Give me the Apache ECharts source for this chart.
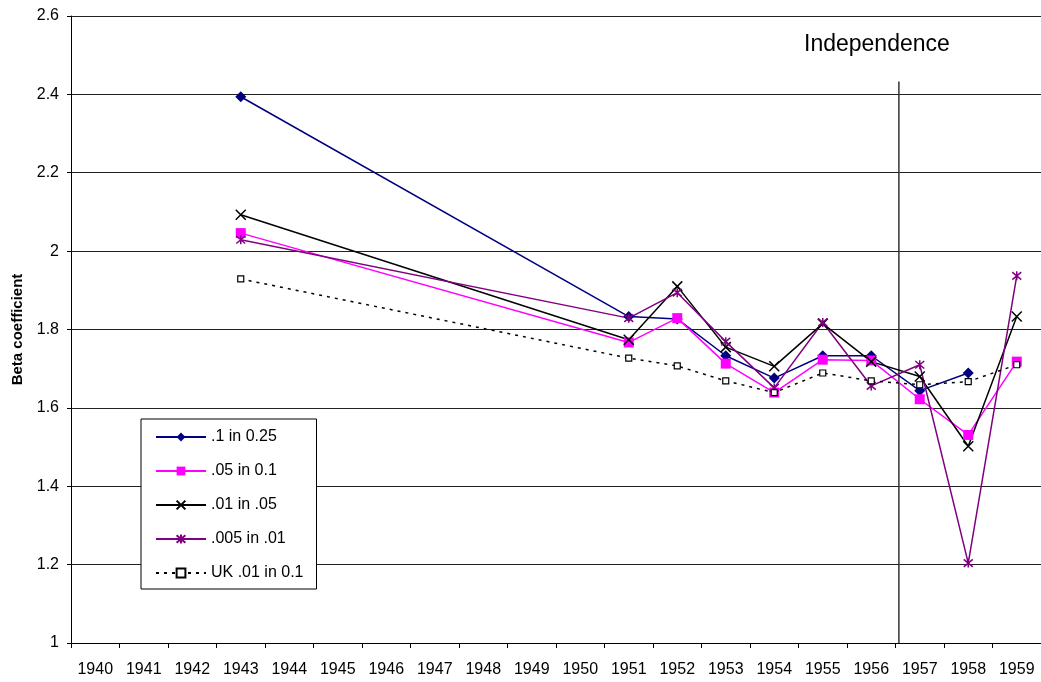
<!DOCTYPE html>
<html>
<head>
<meta charset="utf-8">
<script src="https://cdn.jsdelivr.net/npm/echarts@6/dist/echarts.min.js"></script>
<style>
  html, body { margin: 0; padding: 0; background: #fff; }
  #chart { width: 1041px; height: 682px; }
</style>
</head>
<body>
<div id="chart"></div>
<script>
// years on the category axis
const years = ['1940', '1941', '1942', '1943', '1944', '1945', '1946', '1947', '1948', '1949',
               '1950', '1951', '1952', '1953', '1954', '1955', '1956', '1957', '1958', '1959'];

// beta coefficients (null = no estimate that year)
const s1 = [null, null, null, 2.394, null, null, null, null, null, null,
            null, 1.833, 1.827, 1.733, 1.676, 1.733, 1.733, 1.644, 1.689, null];
const s2 = [null, null, null, 2.046, null, null, null, null, null, null,
            null, 1.767, 1.829, 1.713, 1.639, 1.723, 1.721, 1.622, 1.531, 1.718];
const s3 = [null, null, null, 2.093, null, null, null, null, null, null,
            null, 1.774, 1.910, 1.755, 1.706, 1.815, 1.718, 1.680, 1.502, 1.833];
const s4 = [null, null, null, 2.029, null, null, null, null, null, null,
            null, 1.829, 1.894, 1.769, 1.651, 1.818, 1.656, 1.710, 1.204, 1.937];
const ukSeries = [null, null, null, 1.929, null, null, null, null, null, null,
            null, 1.727, 1.707, 1.669, 1.639, 1.689, 1.669, 1.659, 1.667, 1.710];

const seriesNames = ['.1 in 0.25', '.05 in 0.1', '.01 in .05', '.005 in .01', 'UK .01 in 0.1'];

// independence marker: position on the 0..20 band scale, and its vertical extent
const independenceX = 17.07;
const independenceY = [1, 2.433];

const FONT = 'Arial, "Liberation Sans", sans-serif';
const crossPath = 'path://M0,0L10,10M10,0L0,10';
const starPath = 'path://M0,0L10,10M10,0L0,10M5,-1L5,11';

function lineSeries(name, data, color, symbol, size, extra) {
    return Object.assign({
        name: name,
        type: 'line',
        data: data,
        connectNulls: true,
        symbol: symbol,
        symbolSize: size,
        showAllSymbol: true,
        animation: false,
        lineStyle: { color: color, width: 1.5 },
        itemStyle: { color: color, borderColor: color, borderWidth: 0 }
    }, extra || {});
}

const option = {
    animation: false,
    textStyle: { fontFamily: FONT },
    grid: { left: 71, right: 0, top: 16, bottom: 39, containLabel: false, outerBoundsMode: 'none' },
    legend: {
        data: seriesNames,
        orient: 'vertical',
        left: 141,
        top: 419,
        padding: [10, 13, 8, 14],
        itemWidth: 50,
        itemHeight: 11,
        itemGap: 18,
        backgroundColor: '#fff',
        borderColor: '#000',
        borderWidth: 1,
        borderRadius: 0,
        textStyle: { fontFamily: FONT, fontSize: 16, color: '#000', lineHeight: 16, padding: [0, 0, 0, 0] }
    },
    graphic: [{
        type: 'text',
        left: 804,
        top: 33,
        style: { text: 'Independence', font: '23px ' + FONT, fill: '#000' }
    }],
    xAxis: [{
        type: 'category',
        data: years,
        boundaryGap: true,
        axisLine: { lineStyle: { color: '#000', width: 1 } },
        axisTick: { show: true, length: 5, interval: 0, lineStyle: { color: '#000' } },
        axisLabel: { interval: 0, fontSize: 16, color: '#000', margin: 19, fontFamily: FONT },
        splitLine: { show: false }
    }, {
        type: 'value',
        min: 0,
        max: 20,
        show: false
    }],
    yAxis: {
        type: 'value',
        min: 1,
        max: 2.6,
        interval: 0.2,
        name: 'Beta coefficient',
        nameLocation: 'middle',
        nameRotate: 90,
        nameGap: 45,
        nameTextStyle: { fontSize: 15, fontWeight: 'bold', color: '#000', fontFamily: FONT },
        axisLine: { show: true, lineStyle: { color: '#000', width: 1 } },
        axisTick: { show: true, length: 4, lineStyle: { color: '#000' } },
        axisLabel: { fontSize: 16, color: '#000', margin: 12, fontFamily: FONT },
        splitLine: { show: true, lineStyle: { color: '#222', width: 1 } }
    },
    series: [
        {
            name: 'independence',
            type: 'line',
            xAxisIndex: 1,
            data: independenceY.map(v => [independenceX, v]),
            symbol: 'none',
            silent: true,
            animation: false,
            lineStyle: { color: '#333', width: 1.5 }
        },
        lineSeries(seriesNames[0], s1, '#000080', 'diamond', 11),
        lineSeries(seriesNames[1], s2, '#ff00ff', 'rect', 10),
        lineSeries(seriesNames[2], s3, '#000000', crossPath, 10, {
            itemStyle: { color: 'none', borderColor: '#000', borderWidth: 1.5 }
        }),
        lineSeries(seriesNames[3], s4, '#800080', starPath, 9, {
            itemStyle: { color: 'none', borderColor: '#800080', borderWidth: 1.5 }
        }),
        lineSeries(seriesNames[4], ukSeries, '#000000', 'rect', 6, {
            lineStyle: { color: '#000', width: 1.5, type: [3, 5] },
            itemStyle: { color: '#fff', borderColor: '#000', borderWidth: 1.2 }
        })
    ]
};

const chart = echarts.init(document.getElementById('chart'), null, { renderer: 'canvas' });
chart.setOption(option);
</script>
</body>
</html>
